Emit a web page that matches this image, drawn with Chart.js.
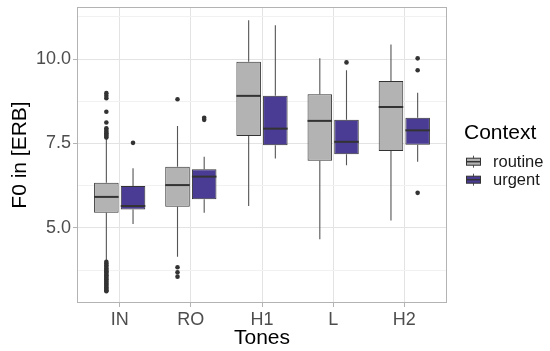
<!DOCTYPE html>
<html>
<head>
<meta charset="utf-8">
<script src="https://cdn.jsdelivr.net/npm/chart.js@4.4.1/dist/chart.umd.min.js"></script>
<style>
html,body{margin:0;padding:0;background:#fff;}
#wrap{width:550px;height:351px;position:relative;}
</style>
</head>
<body>
<div id="wrap"><canvas id="c" width="550" height="351"></canvas></div>
<script>
const tones = ['IN', 'RO', 'H1', 'L', 'H2'];
const seriesNames = ['routine', 'urgent'];

const routineLow    = [4.05, 4.15, 5.65, 4.67, 5.22];
const routineQ1     = [5.45, 5.63, 7.72, 6.99, 7.28];
const routineMedian = [5.92, 6.27, 8.91, 8.17, 8.58];
const routineQ3     = [6.34, 6.81, 9.92, 8.96, 9.35];
const routineHigh   = [7.65, 8.02, 11.15, 10.02, 10.43];
const routineOutliers = [
  [7.68, 7.72, 7.76, 7.80, 7.85, 7.90, 7.95, 8.12, 8.44, 8.84, 8.91, 8.99,
   4.00, 3.95, 3.90, 3.85, 3.80, 3.76, 3.72, 3.68, 3.64, 3.60, 3.56, 3.52,
   3.48, 3.44, 3.40, 3.36, 3.32, 3.28, 3.24, 3.20, 3.16, 3.13],
  [8.81, 3.84, 3.69, 3.56],
  [],
  [],
  []
];

const urgentLow    = [5.12, 5.45, 7.06, 6.86, 6.96];
const urgentQ1     = [5.55, 5.85, 7.45, 7.18, 7.46];
const urgentMedian = [5.65, 6.52, 7.94, 7.55, 7.89];
const urgentQ3     = [6.24, 6.74, 8.91, 8.20, 8.26];
const urgentHigh   = [6.77, 7.11, 11.00, 9.67, 9.00];
const urgentOutliers = [
  [7.52],
  [8.26, 8.20],
  [],
  [9.90],
  [10.02, 9.67, 6.04]
];

const yMajorTicks = [5.0, 7.5, 10.0];
const yMinorTicks = [3.75, 6.25, 8.75, 11.25];

const FONT = "'Liberation Sans', Arial, Helvetica, sans-serif";
const fills = ['#b3b3b3', '#4a3b94'];
const lineCol = '#333333';
const whiskerCol = '#555555';

const stats = [
  {low: routineLow, q1: routineQ1, med: routineMedian, q3: routineQ3, high: routineHigh, out: routineOutliers},
  {low: urgentLow, q1: urgentQ1, med: urgentMedian, q3: urgentQ3, high: urgentHigh, out: urgentOutliers}
];

const boxPlugin = {
  id: 'boxExtras',
  beforeDatasetsDraw(chart) {
    const ctx = chart.ctx;
    const ys = chart.scales.y;
    ctx.save();
    ctx.strokeStyle = whiskerCol;
    ctx.lineWidth = 1.1;
    stats.forEach((s, di) => {
      const meta = chart.getDatasetMeta(di);
      meta.data.forEach((bar, i) => {
        const x = bar.x;
        ctx.beginPath();
        ctx.moveTo(x, ys.getPixelForValue(s.q3[i]));
        ctx.lineTo(x, ys.getPixelForValue(s.high[i]));
        ctx.moveTo(x, ys.getPixelForValue(s.q1[i]));
        ctx.lineTo(x, ys.getPixelForValue(s.low[i]));
        ctx.stroke();
      });
    });
    ctx.restore();
  },
  afterDatasetsDraw(chart) {
    const ctx = chart.ctx;
    const ys = chart.scales.y;
    ctx.save();
    stats.forEach((s, di) => {
      const meta = chart.getDatasetMeta(di);
      meta.data.forEach((bar, i) => {
        const x = bar.x, w = bar.width;
        const ym = ys.getPixelForValue(s.med[i]);
        ctx.strokeStyle = lineCol;
        ctx.lineWidth = 2;
        ctx.beginPath();
        ctx.moveTo(x - w / 2, ym);
        ctx.lineTo(x + w / 2, ym);
        ctx.stroke();
        ctx.fillStyle = lineCol;
        s.out[i].forEach(v => {
          ctx.beginPath();
          ctx.arc(x, ys.getPixelForValue(v), 2.3, 0, Math.PI * 2);
          ctx.fill();
        });
      });
    });
    const a = chart.chartArea;
    ctx.strokeStyle = '#b3b3b3';
    ctx.lineWidth = 1;
    ctx.strokeRect(Math.round(a.left) + 0.5, Math.round(a.top) + 0.5,
                   Math.round(a.right - a.left) - 1, Math.round(a.bottom - a.top) - 1);
    ctx.restore();
  },
  afterDraw(chart) {
    const ctx = chart.ctx;
    ctx.save();
    ctx.fillStyle = '#000';
    ctx.font = '21px ' + FONT;
    ctx.textBaseline = 'middle';
    ctx.textAlign = 'left';
    ctx.fillText('Context', 464, 133);
    seriesNames.forEach((name, i) => {
      const cy = 161.7 + i * 18;
      const kx = 466, kw = 15;
      ctx.strokeStyle = whiskerCol;
      ctx.lineWidth = 1;
      ctx.beginPath();
      ctx.moveTo(kx + kw / 2, cy - 6);
      ctx.lineTo(kx + kw / 2, cy + 6);
      ctx.stroke();
      ctx.strokeStyle = lineCol;
      ctx.fillStyle = fills[i];
      ctx.fillRect(kx, cy - 3.5, kw, 7);
      ctx.strokeRect(kx + 0.5, cy - 3.5, kw - 1, 7);
      ctx.lineWidth = 1.5;
      ctx.beginPath();
      ctx.moveTo(kx, cy);
      ctx.lineTo(kx + kw, cy);
      ctx.stroke();
      ctx.fillStyle = '#1a1a1a';
      ctx.font = '16.5px ' + FONT;
      ctx.fillText(name, 493, cy + 0.5);
    });
    ctx.restore();
  }
};

const datasets = stats.map((s, di) => ({
  label: seriesNames[di],
  data: tones.map((t, i) => ({x: i, y: [s.q1[i], s.q3[i]]})),
  backgroundColor: fills[di],
  borderColor: lineCol,
  borderWidth: 1,
  borderSkipped: false,
  categoryPercentage: 0.75,
  barPercentage: 0.92
}));

new Chart(document.getElementById('c'), {
  type: 'bar',
  data: {datasets},
  options: {
    responsive: false,
    animation: false,
    events: [],
    layout: {padding: {top: 7, right: 103, left: 0, bottom: 0}},
    plugins: {legend: {display: false}, tooltip: {enabled: false}},
    scales: {
      x: {
        type: 'linear',
        min: -0.6,
        max: 4.6,
        offset: false,
        afterBuildTicks: (scale) => { scale.ticks = tones.map((t, i) => ({value: i})); },
        afterFit: (scale) => { scale.height = 48; scale.paddingLeft = 0; scale.paddingRight = 0; },
        ticks: {
          callback: (v) => tones[Math.round(v)],
          color: '#4d4d4d',
          font: {family: FONT, size: 18},
          padding: 2,
          maxRotation: 0,
          autoSkip: false
        },
        grid: {offset: false, color: '#e3e3e3', lineWidth: 1, tickLength: 4, tickColor: '#b3b3b3'},
        border: {display: false},
        title: {display: true, text: 'Tones', color: '#000', font: {family: FONT, size: 21, lineHeight: 1.2}, padding: {top: 0, bottom: 0}}
      },
      y: {
        type: 'linear',
        min: 2.78,
        max: 11.54,
        afterBuildTicks: (scale) => {
          scale.ticks = [...yMinorTicks, ...yMajorTicks].sort((a, b) => a - b).map(v => ({value: v}));
        },
        afterFit: (scale) => { scale.width = 77; scale.paddingTop = 0; scale.paddingBottom = 0; },
        ticks: {
          callback: (v) => yMajorTicks.includes(v) ? v.toFixed(1) : '',
          color: '#4d4d4d',
          font: {family: FONT, size: 18},
          padding: 2,
          autoSkip: false
        },
        grid: {
          color: (c) => (c.tick && yMinorTicks.includes(c.tick.value)) ? '#f1f1f1' : '#e3e3e3',
          tickColor: (c) => (c.tick && yMinorTicks.includes(c.tick.value)) ? 'rgba(0,0,0,0)' : '#b3b3b3',
          tickLength: 4,
          lineWidth: 1
        },
        border: {display: false},
        title: {display: true, text: 'F0 in [ERB]', color: '#000', font: {family: FONT, size: 21, lineHeight: 1.2}, padding: {top: 7.5, bottom: 0}}
      }
    }
  },
  plugins: [boxPlugin]
});
</script>
</body>
</html>
